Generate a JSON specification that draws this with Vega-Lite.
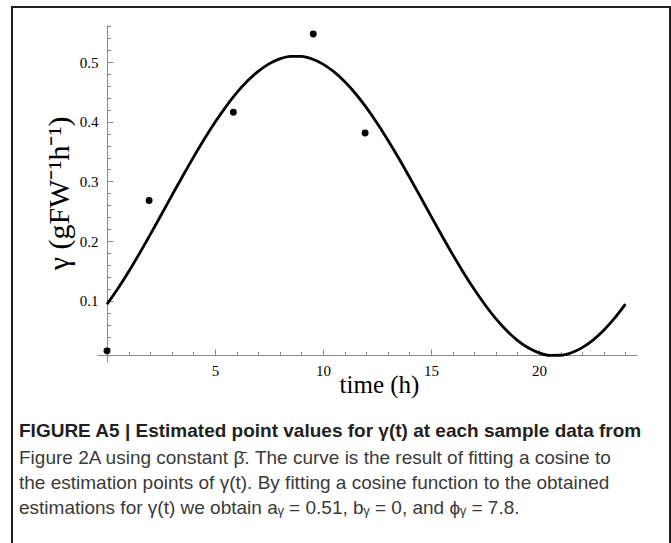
{
  "$schema": "https://vega.github.io/schema/vega-lite/v6.json",
  "width": 658,
  "height": 539,
  "autosize": "none",
  "padding": {"left": 12, "top": 7, "right": 1, "bottom": -3},
  "background": "white",
  "config": {
    "view": {"stroke": "#231f20", "strokeWidth": 2, "fill": "white"},
    "axis": {"labelOverlap": false, "grid": false}
  },
  "title": {
    "text": "FIGURE A5 | Estimated point values for γ(t) at each sample data from",
    "subtitle": [
      "Figure 2A using constant β̄. The curve is the result of fitting a cosine to",
      "the estimation points of γ(t). By fitting a cosine function to the obtained",
      "estimations for γ(t) we obtain aᵧ = 0.51, bᵧ = 0, and ϕᵧ = 7.8."
    ],
    "orient": "bottom",
    "anchor": "start",
    "frame": "group",
    "offset": -124,
    "dx": 7,
    "font": "Liberation Sans",
    "fontSize": 19,
    "fontWeight": "bold",
    "color": "#231f20",
    "subtitleFont": "Liberation Sans",
    "subtitleFontSize": 19,
    "subtitleColor": "#3a3a3a",
    "subtitleLineHeight": 25.3,
    "subtitlePadding": 7.5
  },
  "resolve": {"axis": {"x": "independent", "y": "independent"}},
  "datasets": {
    "curve": [
      {"t": 0, "g": 0.0944}, {"t": 0.5, "g": 0.1202}, {"t": 1, "g": 0.1485}, {"t": 1.5, "g": 0.1789},
      {"t": 2, "g": 0.2107}, {"t": 2.5, "g": 0.2433}, {"t": 3, "g": 0.2761}, {"t": 3.5, "g": 0.3086},
      {"t": 4, "g": 0.3403}, {"t": 4.5, "g": 0.3706}, {"t": 5, "g": 0.3990}, {"t": 5.5, "g": 0.4250},
      {"t": 6, "g": 0.4482}, {"t": 6.5, "g": 0.4681}, {"t": 7, "g": 0.4844}, {"t": 7.5, "g": 0.4969},
      {"t": 8, "g": 0.5053}, {"t": 8.5, "g": 0.5095}, {"t": 9, "g": 0.5094}, {"t": 9.5, "g": 0.5051},
      {"t": 10, "g": 0.4965}, {"t": 10.5, "g": 0.4838}, {"t": 11, "g": 0.4673}, {"t": 11.5, "g": 0.4473},
      {"t": 12, "g": 0.4240}, {"t": 12.5, "g": 0.3979}, {"t": 13, "g": 0.3694}, {"t": 13.5, "g": 0.3391},
      {"t": 14, "g": 0.3073}, {"t": 14.5, "g": 0.2748}, {"t": 15, "g": 0.2419}, {"t": 15.5, "g": 0.2094},
      {"t": 16, "g": 0.1777}, {"t": 16.5, "g": 0.1473}, {"t": 17, "g": 0.1191}, {"t": 17.5, "g": 0.0933},
      {"t": 18, "g": 0.0700}, {"t": 18.5, "g": 0.0501}, {"t": 19, "g": 0.0337}, {"t": 19.5, "g": 0.0211},
      {"t": 20, "g": 0.0127}, {"t": 20.5, "g": 0.0085}, {"t": 21, "g": 0.0086}, {"t": 21.5, "g": 0.0129},
      {"t": 22, "g": 0.0214}, {"t": 22.5, "g": 0.0341}, {"t": 23, "g": 0.0506}, {"t": 23.5, "g": 0.0707},
      {"t": 24, "g": 0.0943}
    ],
    "points": [
      {"t": 0, "g": 0.016},
      {"t": 1.95, "g": 0.268},
      {"t": 5.85, "g": 0.416},
      {"t": 9.55, "g": 0.547},
      {"t": 11.95, "g": 0.381}
    ]
  },
  "layer": [
    {
      "data": {"name": "curve"},
      "mark": {"type": "line", "color": "black", "strokeWidth": 2.8, "interpolate": "monotone"},
      "encoding": {
        "x": {
          "field": "t",
          "type": "quantitative",
          "scale": {"domain": [-4.398, 26.065], "nice": false, "zero": false},
          "axis": {
            "orient": "bottom",
            "offset": -191,
            "values": [5, 10, 15, 20],
            "format": "d",
            "tickSize": -6,
            "tickColor": "#8a8a8a",
            "tickWidth": 1,
            "domainColor": "#8a8a8a",
            "domainWidth": 1,
            "domainDash": [0, 85, 540, 2000],
            "labelFont": "Liberation Serif",
            "labelFontSize": 15,
            "labelColor": "black",
            "labelPadding": 14,
            "labelFlush": false,
            "labelOverlap": false,
            "title": "time (h)",
            "titleFont": "Liberation Serif",
            "titleFontSize": 25,
            "titleFontWeight": "normal",
            "titleColor": "black",
            "titleX": 367,
            "titleY": 37,
            "titleAlign": "center",
            "titleBaseline": "alphabetic",
            "titleAngle": 0
          }
        },
        "y": {
          "field": "g",
          "type": "quantitative",
          "scale": {"domain": [-0.31104, 0.59225], "nice": false, "zero": false},
          "axis": {
            "orient": "left",
            "offset": -95,
            "values": [0.1, 0.2, 0.3, 0.4, 0.5],
            "format": ".1f",
            "tickSize": -6,
            "tickColor": "#8a8a8a",
            "tickWidth": 1,
            "domainColor": "#8a8a8a",
            "domainWidth": 1,
            "domainDash": [0, 184, 337, 2000],
            "labelFont": "Liberation Serif",
            "labelFontSize": 15,
            "labelColor": "black",
            "labelPadding": 15,
            "labelFlush": false,
            "labelOverlap": false,
            "title": "γ (gFW⁻¹h⁻¹)",
            "titleFont": "Liberation Serif",
            "titleFontSize": 30,
            "titleFontWeight": "normal",
            "titleColor": "black",
            "titleX": -39,
            "titleY": 186,
            "titleAlign": "center",
            "titleBaseline": "alphabetic",
            "titleAngle": -90
          }
        }
      }
    },
    {
      "data": {"name": "points"},
      "mark": {"type": "point", "filled": true, "color": "black", "opacity": 1, "size": 48},
      "encoding": {
        "x": {
          "field": "t",
          "type": "quantitative",
          "axis": {
            "orient": "bottom",
            "offset": -191,
            "values": [1,2,3,4,6,7,8,9,11,12,13,14,16,17,18,19,21,22,23,24],
            "tickSize": -3.5,
            "tickColor": "#8a8a8a",
            "tickWidth": 1,
            "domain": false,
            "labels": false,
            "title": null
          }
        },
        "y": {
          "field": "g",
          "type": "quantitative",
          "axis": {
            "orient": "left",
            "offset": -95,
            "values": [0.02,0.04,0.06,0.08,0.12,0.14,0.16,0.18,0.22,0.24,0.26,0.28,0.32,0.34,0.36,0.38,0.42,0.44,0.46,0.48,0.52,0.54,0.56],
            "tickSize": -3.5,
            "tickColor": "#8a8a8a",
            "tickWidth": 1,
            "domain": false,
            "labels": false,
            "title": null
          }
        }
      }
    }
  ]
}
